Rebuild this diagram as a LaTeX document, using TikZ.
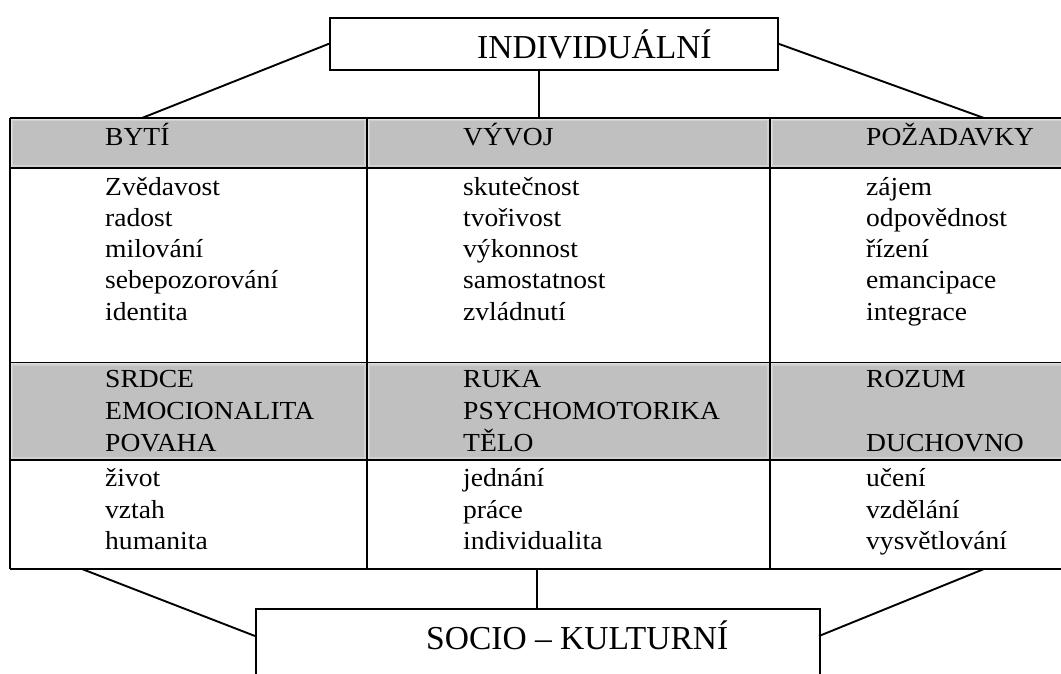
\documentclass[tikz,border=0pt]{standalone}
\usepackage{fontspec}
\setmainfont{Liberation Serif}
\newfontfamily\cellfont[FakeStretch=1.06]{Liberation Serif}
\usetikzlibrary{calc}
\definecolor{cellgray}{RGB}{192,192,192}
\definecolor{glowA}{RGB}{226,226,226}
\definecolor{glowB}{RGB}{208,208,208}
\newcommand\graycell[4]{%
  \fill[glowA] (#1,#2) rectangle (#3,#4);
  \fill[glowB] (#1+1.5,#2+1.5) rectangle (#3-1.5,#4-1.5);
  \fill[cellgray] (#1+3,#2+3) rectangle (#3-3,#4-3);
}
\begin{document}
\begin{tikzpicture}[x=1pt,y=-1pt,
  conn/.style={draw, line width=1.9pt},
  bigbox/.style={draw, line width=1.5pt, rectangle, inner sep=0pt, anchor=north west, fill=white},
  bigtxt/.style={font=\fontsize{33.5}{40}\selectfont, inner sep=0pt, anchor=base west},
  celltxt/.style={font=\cellfont\fontsize{26}{31}\selectfont, inner sep=0pt, anchor=base west},
  tline/.style={draw, line width=1.5pt}]
\useasboundingbox (0,0) rectangle (1061,673);
\clip (0,0) rectangle (1061,673);
\fill[white] (0,0) rectangle (1061,673);

% gray cells
\graycell{10}{118}{367}{168}
\graycell{367}{118}{770}{168}
\graycell{770}{118}{1075}{168}
\graycell{10}{362.7}{367}{460}
\graycell{367}{362.7}{770}{460}
\graycell{770}{362.7}{1075}{460}

% table rules
\foreach \yy in {118,168,362.7,460,569}
  \draw[tline] (10,\yy) -- (1070,\yy);
\foreach \xx in {10,367,770}
  \draw[tline] (\xx,118) -- (\xx,569);

% headers
\node[celltxt] (h1) at (105,145) {BYTÍ};
\node[celltxt] (h2) at (463,145) {VÝVOJ};
\node[celltxt] (h3) at (866,145) {POŽADAVKY};

% first white row
\foreach \w [count=\i] in {Zvědavost,radost,milování,sebepozorování,identita}
  \node[celltxt] (a\i) at (105,{195+(\i-1)*31.3}) {\w};
\foreach \w [count=\i] in {skutečnost,tvořivost,výkonnost,samostatnost,zvládnutí}
  \node[celltxt] (b\i) at (463,{195+(\i-1)*31.3}) {\w};
\foreach \w [count=\i] in {zájem,odpovědnost,řízení,emancipace,integrace}
  \node[celltxt] (c\i) at (866,{195+(\i-1)*31.3}) {\w};

% second gray row
\foreach \w [count=\i] in {SRDCE,EMOCIONALITA,POVAHA}
  \node[celltxt] (d\i) at (105,{387.7+(\i-1)*32}) {\w};
\foreach \w [count=\i] in {RUKA,PSYCHOMOTORIKA,TĚLO}
  \node[celltxt] (e\i) at (463,{387.7+(\i-1)*32}) {\w};
\node[celltxt] (f1) at (866,387.7) {ROZUM};
\node[celltxt] (f3) at (866,451.7) {DUCHOVNO};

% second white row
\foreach \w [count=\i] in {život,vztah,humanita}
  \node[celltxt] (g\i) at (105,{486.7+(\i-1)*31.5}) {\w};
\foreach \w [count=\i] in {jednání,práce,individualita}
  \node[celltxt] (k\i) at (463,{486.7+(\i-1)*31.5}) {\w};
\foreach \w [count=\i] in {učení,vzdělání,vysvětlování}
  \node[celltxt] (m\i) at (866,{486.7+(\i-1)*31.5}) {\w};

% top box
\node[bigbox, minimum width=448pt, minimum height=52pt] (ind) at (329,17) {};
\node[bigtxt] (indt) at (477,58) {INDIVIDUÁLNÍ};
% bottom box
\node[bigbox, minimum width=564pt, minimum height=80pt] (soc) at (255,608) {};
\node[bigtxt] (soct) at (426,649) {SOCIO – KULTURNÍ};

% connection points on the table
\coordinate (tl) at (142,118);
\coordinate (tc) at (539,118);
\coordinate (tr) at (984,118);
\coordinate (bl) at (82,569);
\coordinate (bc) at (537,569);
\coordinate (br) at (984,569);
\coordinate (indb) at (539,69);
\coordinate (socl) at (255,636);
\coordinate (socr) at (819,636);
\coordinate (soct2) at (537,608);

\draw[conn] (ind.west) -- (tl);
\draw[conn] (ind.east) -- (tr);
\draw[conn] (indb) -- (tc);
\draw[conn] (bl) -- (socl);
\draw[conn] (br) -- (socr);
\draw[conn] (bc) -- (soct2);
\end{tikzpicture}
\end{document}
